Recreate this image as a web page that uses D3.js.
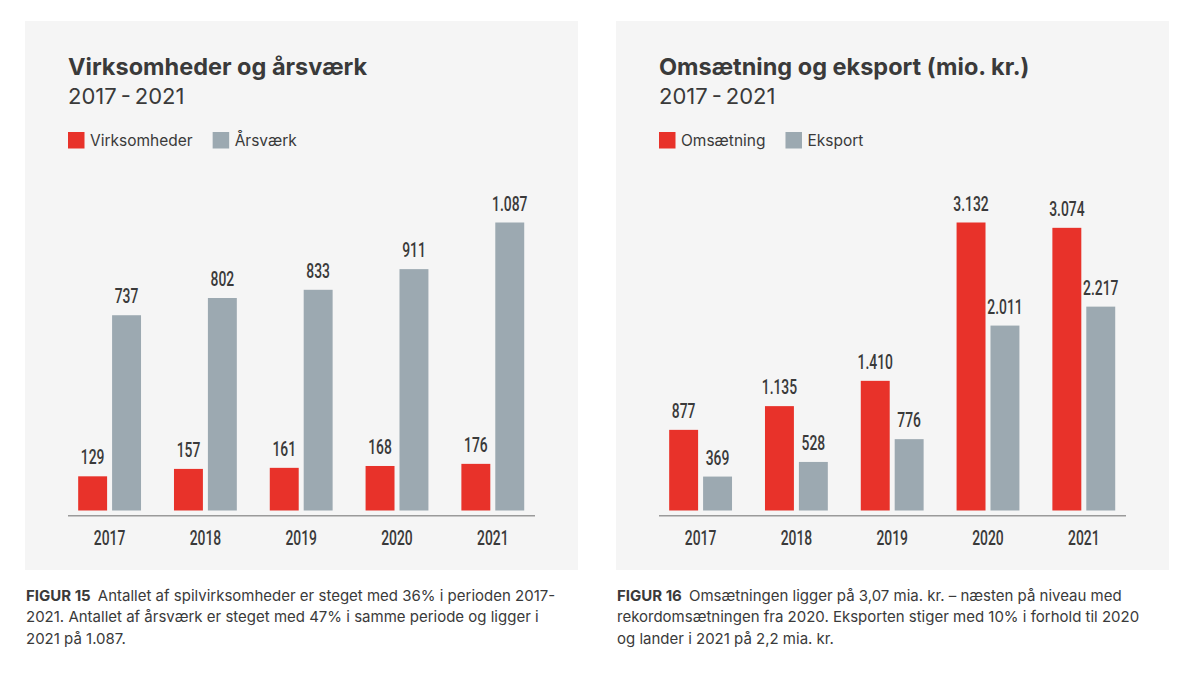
<!DOCTYPE html>
<meta charset="utf-8">
<style>
  html, body { margin: 0; padding: 0; background: #fff; }
  svg { display: block; font-family: Inter, "Open Sans", sans-serif; }
  .title { font-size: 23.5px; font-weight: 700; fill: #3a3a3a; }
  .subtitle { font-size: 22px; font-weight: 400; fill: #3a3a3a; }
  .legend { font-size: 15.5px; fill: #3a3a3a; }
  .num { font-family: Roboto, sans-serif; font-size: 21px; font-weight: 500; fill: #3a3a3a; }
  .caption { font-size: 15px; fill: #3a3a3a; }
  .caption .fig { font-weight: 700; }
</style>
<body>
</body>
<script src="https://cdn.jsdelivr.net/npm/d3@7"></script>
<script>
  const years = ['2017', '2018', '2019', '2020', '2021'];

  const virksomheder = [129, 157, 161, 168, 176];
  const aarsvaerk = [737, 802, 833, 911, 1087];

  const omsaetning = [877, 1135, 1410, 3132, 3074];
  const eksport = [369, 528, 776, 2011, 2217];

  const colors = ['#e8322a', '#9ca9b1'];

  const captions1 = [
    ['FIGUR 15', 'Antallet af spilvirksomheder er steget med 36% i perioden 2017-'],
    ['', '2021. Antallet af årsværk er steget med 47% i samme periode og ligger i'],
    ['', '2021 på 1.087.']
  ];
  const captions2 = [
    ['FIGUR 16', 'Omsætningen ligger på 3,07 mia. kr. – næsten på niveau med'],
    ['', 'rekordomsætningen fra 2020. Eksporten stiger med 10% i forhold til 2020'],
    ['', 'og lander i 2021 på 2,2 mia. kr.']
  ];

  const dk = d3.formatLocale({decimal: ',', thousands: '.', grouping: [3], currency: ['', ' kr.']});
  const fmt = dk.format(',');

  const W = 1200, H = 673;
  const pw = 553, ph = 549;   // panel size

  const svg = d3.select('body').append('svg')
    .attr('width', W)
    .attr('height', H);

  // condensed look for the numbers: squeeze Roboto horizontally
  function num(g, x, y, txt) {
    g.append('text')
      .attr('class', 'num')
      .attr('text-anchor', 'middle')
      .attr('transform', `translate(${x},${y}) scale(0.66,1)`)
      .text(txt);
  }

  function panel(left, title, names, series, captions) {
    const g = svg.append('g').attr('transform', `translate(${left}, 21)`);

    g.append('rect')
      .attr('width', pw)
      .attr('height', ph)
      .attr('fill', '#f5f5f5');

    g.append('text').attr('class', 'title')
      .attr('x', 43).attr('y', 54)
      .text(title);
    g.append('text').attr('class', 'subtitle')
      .attr('x', 43).attr('y', 83)
      .text('2017\u2009-\u20092021');

    // legend
    let lx = 43;
    names.forEach((name, i) => {
      g.append('rect')
        .attr('x', lx).attr('y', 111)
        .attr('width', 16.5).attr('height', 16.5)
        .attr('fill', colors[i]);
      const t = g.append('text').attr('class', 'legend')
        .attr('x', lx + 22).attr('y', 125)
        .text(name);
      lx += 22 + t.node().getComputedTextLength() + 20;
    });

    const x = d3.scaleBand()
      .domain(years)
      .range([36.7, 515.7])
      .paddingInner(0.344)
      .paddingOuter(0.172);

    const xs = d3.scaleBand()
      .domain([0, 1])
      .range([0, x.bandwidth()])
      .paddingInner(0.147);

    const max = d3.max(series.flat());
    const y = d3.scaleLinear()
      .domain([0, max])
      .range([489.5, 201.5]);

    const rows = years.map((yr, i) => ({yr, vals: series.map(s => s[i])}));

    const grp = g.selectAll('g.year')
      .data(rows)
      .join('g')
        .attr('class', 'year')
        .attr('transform', d => `translate(${x(d.yr)},0)`);

    grp.selectAll('rect')
      .data(d => d.vals)
      .join('rect')
        .attr('x', (d, i) => xs(i))
        .attr('y', d => y(d))
        .attr('width', xs.bandwidth())
        .attr('height', d => y(0) - y(d))
        .attr('fill', (d, i) => colors[i]);

    grp.each(function(d) {
      const sel = d3.select(this);
      d.vals.forEach((v, i) => {
        num(sel, xs(i) + xs.bandwidth() / 2, y(v) - 12, fmt(v));
      });
    });

    // baseline
    g.append('line')
      .attr('x1', 43).attr('x2', 510)
      .attr('y1', 494.7).attr('y2', 494.7)
      .attr('stroke', '#9a9a9a')
      .attr('stroke-width', 1.5);

    // year labels
    const axis = g.append('g')
      .attr('transform', 'translate(0, 495)')
      .call(d3.axisBottom(x).tickSize(0).tickPadding(0));
    axis.select('.domain').remove();
    axis.selectAll('.tick text').remove();
    axis.selectAll('.tick').each(function(d) {
      num(d3.select(this), 0, 29, d);
    });

    // caption below panel
    const cap = svg.append('text')
      .attr('class', 'caption')
      .attr('x', left + 1)
      .attr('y', 600.5);
    captions.forEach((c, i) => {
      const line = cap.append('tspan')
        .attr('x', left + 1)
        .attr('dy', i === 0 ? 0 : 21.7);
      if (c[0]) {
        line.append('tspan').attr('class', 'fig').text(c[0] + '\u00a0 ');
      }
      line.append('tspan').text(c[1]);
    });
  }

  panel(25, 'Virksomheder og årsværk', ['Virksomheder', 'Årsværk'],
        [virksomheder, aarsvaerk], captions1);
  panel(616, 'Omsætning og eksport (mio. kr.)', ['Omsætning', 'Eksport'],
        [omsaetning, eksport], captions2);
</script>
